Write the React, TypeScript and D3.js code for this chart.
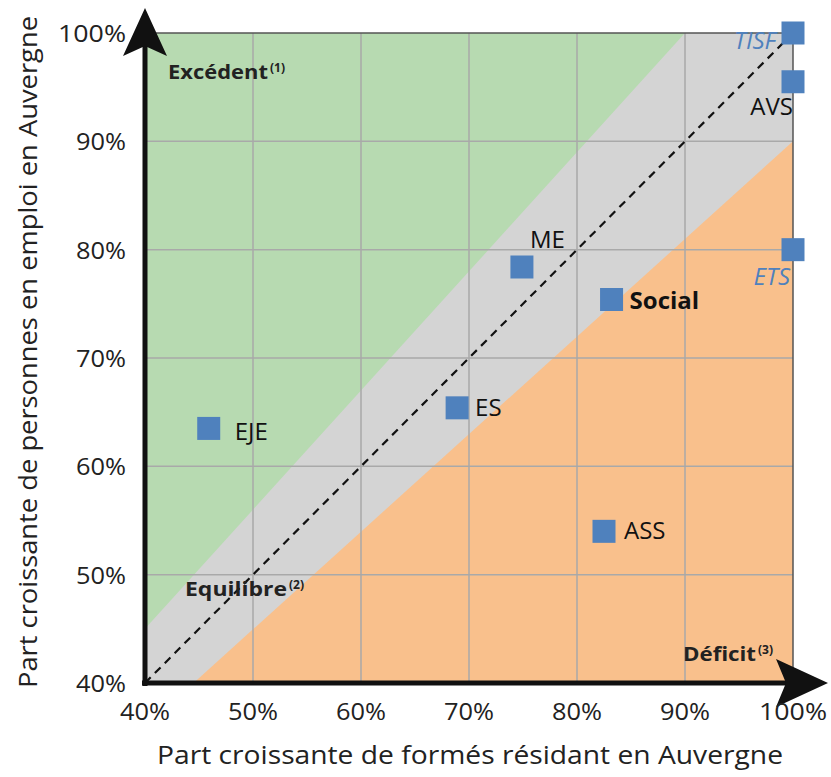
import React from "react";
import * as d3 from "d3";

const ticks = [0.4, 0.5, 0.6, 0.7, 0.8, 0.9, 1.0];
const tickLabels = ["40%", "50%", "60%", "70%", "80%", "90%", "100%"];

const names = ["TISF", "AVS", "ETS", "ME", "Social", "ES", "EJE", "ASS"];
const xVals = [1.0, 1.0, 1.0, 0.749, 0.832, 0.689, 0.459, 0.825];
const yVals = [1.0, 0.955, 0.8, 0.784, 0.754, 0.654, 0.635, 0.54];

// zone boundaries (x, y)
const upperBound = [[0.4, 0.45], [0.9, 1.0]];
const lowerBound = [[0.445, 0.4], [1.0, 0.9]];

const labelStyle: Record<string, { dx: number; dy: number; italic?: boolean; bold?: boolean; blue?: boolean; anchor?: string }> = {
  TISF: { dx: -17, dy: 16, italic: true, blue: true, anchor: "end" },
  AVS: { dx: 0, dy: 33, anchor: "end" },
  ETS: { dx: -3, dy: 35, italic: true, blue: true, anchor: "end" },
  ME: { dx: 8, dy: -19, anchor: "start" },
  Social: { dx: 18, dy: 9, bold: true, anchor: "start" },
  ES: { dx: 18, dy: 8, anchor: "start" },
  EJE: { dx: 26, dy: 12, anchor: "start" },
  ASS: { dx: 20, dy: 8, anchor: "start" },
};

export default function App() {
  const x = d3.scaleLinear().domain([0.4, 1]).range([145, 793]);
  const y = d3.scaleLinear().domain([0.4, 1]).range([683, 33]);
  const font = "'Open Sans', 'DejaVu Sans', sans-serif";
  const blue = "#4f81bd";

  const [x0, x1] = x.range();
  const [yb, yt] = y.range();

  const green = `M${x0},${yt} L${x(upperBound[1][0])},${y(upperBound[1][1])} L${x(upperBound[0][0])},${y(upperBound[0][1])} Z`;
  const orange = `M${x(lowerBound[0][0])},${y(lowerBound[0][1])} L${x(lowerBound[1][0])},${y(lowerBound[1][1])} L${x1},${yb} Z`;

  return (
    <svg width={831} height={777} style={{ position: "absolute", left: 0, top: 0, background: "#fff" }} fontFamily={font}>
      <rect x={x0} y={yt} width={x1 - x0} height={yb - yt} fill="#d4d4d4" />
      <path d={green} fill="#b7dab1" />
      <path d={orange} fill="#f9c08c" />
      {ticks.slice(1, -1).map((t, i) => (
        <g key={i}>
          <line x1={x(t)} x2={x(t)} y1={yt} y2={yb} stroke="#a9a9a9" strokeWidth={1.5} />
          <line x1={x0} x2={x1} y1={y(t)} y2={y(t)} stroke="#a9a9a9" strokeWidth={1.5} />
        </g>
      ))}
      <line x1={x0} x2={x1} y1={yt} y2={yt} stroke="#555" strokeWidth={1.5} />
      <line x1={x1} x2={x1} y1={yt} y2={yb} stroke="#555" strokeWidth={1.5} />
      <line x1={x(0.4)} y1={y(0.4)} x2={x(1)} y2={y(1)} stroke="#111" strokeWidth={2.2} strokeDasharray="8,6" />

      {/* axes */}
      <line x1={x0} x2={x0} y1={yb + 3} y2={40} stroke="#111" strokeWidth={5} />
      <line x1={x0 - 3} x2={790} y1={yb} y2={yb} stroke="#111" strokeWidth={5} />
      <path d={`M${x0},8 L${x0 + 22},56 L${x0},46 L${x0 - 22},56 Z`} fill="#111" />
      <path d={`M828,${yb} L776,${yb + 24} L786,${yb} L776,${yb - 24} Z`} fill="#111" />

      {/* tick labels */}
      {ticks.map((t, i) => (
        <text key={"x" + i} x={x(t)} y={yb + 37} textAnchor="middle" fontSize={24} fill="#222" textLength={i === 6 ? 68 : 50} lengthAdjust="spacingAndGlyphs">
          {tickLabels[i]}
        </text>
      ))}
      {ticks.map((t, i) => (
        <text key={"y" + i} x={126} y={y(t) + 9} textAnchor="end" fontSize={24} fill="#222" textLength={i === 6 ? 68 : 50} lengthAdjust="spacingAndGlyphs">
          {tickLabels[i]}
        </text>
      ))}

      {/* axis titles */}
      <text x={470} y={764} textAnchor="middle" fontSize={25} fill="#222" textLength={626} lengthAdjust="spacingAndGlyphs">
        Part croissante de formés résidant en Auvergne
      </text>
      <text transform="translate(37,352) rotate(-90)" textAnchor="middle" fontSize={25} fill="#222" textLength={672} lengthAdjust="spacingAndGlyphs">
        Part croissante de personnes en emploi en Auvergne
      </text>

      {/* zone labels */}
      <text x={168} y={79} fontSize={19} fontWeight="bold" fill="#222" textLength={100} lengthAdjust="spacingAndGlyphs">
        Excédent
      </text>
      <text x={270} y={72} fontSize={12} fontWeight="bold" fill="#222">(1)</text>
      <text x={185} y={596} fontSize={19} fontWeight="bold" fill="#222" textLength={102} lengthAdjust="spacingAndGlyphs">
        Equilibre
      </text>
      <text x={289} y={589} fontSize={12} fontWeight="bold" fill="#222">(2)</text>
      <text x={683} y={661} fontSize={19} fontWeight="bold" fill="#222" textLength={73} lengthAdjust="spacingAndGlyphs">
        Déficit
      </text>
      <text x={758} y={654} fontSize={12} fontWeight="bold" fill="#222">(3)</text>

      {/* points */}
      {names.map((n, i) => {
        const s = labelStyle[n];
        const cx = x(xVals[i]);
        const cy = y(yVals[i]);
        return (
          <g key={n}>
            <rect x={cx - 11.5} y={cy - 11.5} width={23} height={23} fill={blue} />
            <text
              x={cx + s.dx}
              y={cy + s.dy}
              textAnchor={s.anchor}
              fontSize={24}
              fontStyle={s.italic ? "italic" : "normal"}
              fontWeight={s.bold ? "bold" : "normal"}
              fill={s.blue ? blue : "#111"}
            >
              {n}
            </text>
          </g>
        );
      })}
    </svg>
  );
}
